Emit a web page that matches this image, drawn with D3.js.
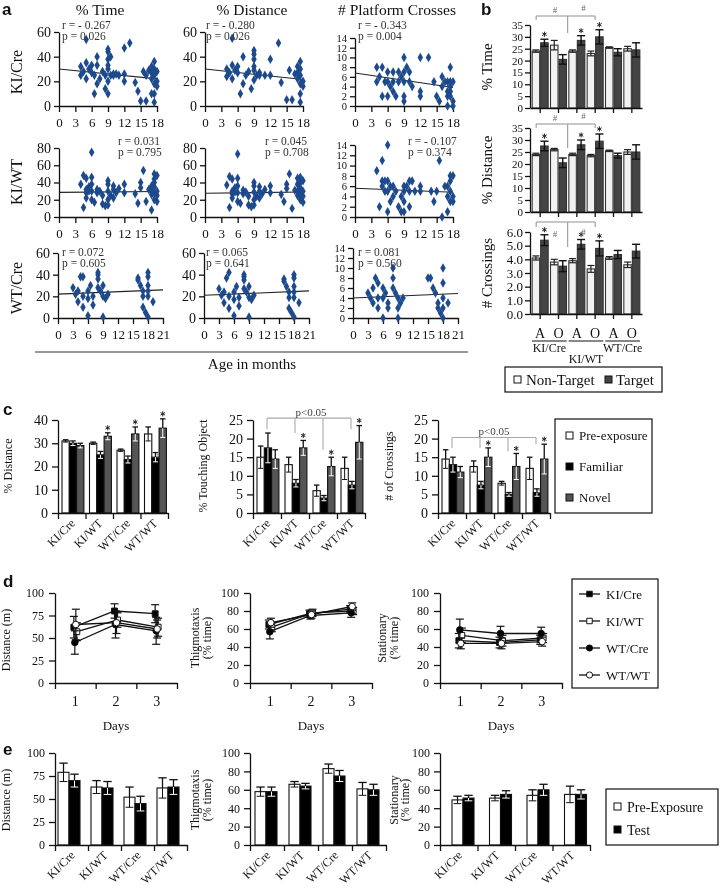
<!DOCTYPE html>
<html><head><meta charset="utf-8">
<script src="https://cdn.jsdelivr.net/npm/d3@7"></script>
<style>
body{margin:0;background:#fff;}
svg{font-family:"Liberation Serif","Times New Roman",serif;will-change:transform;}
</style></head><body>
<svg id="fig" width="720" height="895"></svg>
<script>
// ================= DATA =================
// ---- panel a ----
const aColTitles = ["% Time", "% Distance", "# Platform Crosses"];
const aRowLabels = ["KI/Cre", "KI/WT", "WT/Cre"];
const ageTicks18 = [0,3,6,9,12,15,18];
const ageTicks21 = [0,3,6,9,12,15,18,21];
const pctTicks60 = [0,20,40,60];
const pctTicks80 = [0,20,40,60,80];
const crossTicks14 = [0,2,4,6,8,10,12,14];
const aKICreTime = [[4,25],[4,32],[4.5,28],[5,35],[5,22],[5,54],[5.5,30],[6,27],[6,33],[6.5,25],[6.5,10],[7,40],[7,18],[7,33],[7.5,22],[8,28],[8.5,25],[8.5,14],[9,46],[9,44],[9,38],[9,33],[9,30],[9,20],[9,10],[9.5,25],[9.5,40],[10,26],[10,25],[10.5,26],[11,25],[12,47],[12,20],[12,26],[13,51],[14,19],[14.5,12],[15,4],[15.5,28],[16,25],[16,4],[16.5,29],[17,27],[17,32],[17,10],[17,22],[17.5,36],[17.5,30],[17.5,25],[17.5,18],[17.5,10],[17.5,3],[18,20],[18,16],[18,28]];
const aKICreDist = [[4,24],[4,30],[4.5,27],[5,33],[5,55],[5,22],[5.5,29],[6,32],[6,27],[6.5,10],[7,40],[7,18],[7.5,25],[8,28],[8.5,14],[9,45],[9,42],[9,38],[9,32],[9,29],[9,21],[9.5,25],[10,27],[10,25],[11,25],[12,38],[12,25],[13.5,51],[14,19],[15,5],[15.5,29],[16,5],[16.5,26],[17,27],[17,32],[17,22],[17.5,36],[17.5,30],[17.5,25],[17.5,18],[17.5,10],[17.5,3],[18,20],[18,16]];
const aKICreCross = [[4,8],[4,5],[4.5,6],[5,8],[5,2],[5.5,5],[6,7],[6,5],[6,2],[6.5,4],[7,7],[7,3],[7,5],[7.5,2],[8,7],[8,5],[8.5,6],[9,10],[9,7],[9,5],[9,2],[9,1],[9.5,8],[10,7],[10,5],[10.5,4],[12,10],[12,3],[12,2],[13.5,10],[14.5,5],[15,2],[15.5,1],[16,6],[16,4],[16.5,5],[17,5],[17,3],[17,2],[17,0],[17.5,8],[17.5,5],[17.5,4],[17.5,3],[17.5,2],[18,1],[18,0],[18,5]];
const aKIWTTime = [[4,38],[4.5,48],[4.5,11],[5,45],[5,32],[5,28],[5,22],[5.5,35],[5.5,30],[6,75],[6,46],[6,38],[6,30],[6,20],[6.5,17],[7,32],[7,28],[7.5,30],[8,25],[8,15],[8.5,13],[9,42],[9,38],[9,30],[9,20],[9,14],[9.5,25],[10,36],[10,32],[10,22],[10.5,28],[11,33],[12,38],[12,28],[14,27],[14.5,16],[15,40],[15,34],[15.5,54],[16,18],[16.5,32],[17,36],[17,30],[17,26],[17,8],[17.5,50],[17.5,44],[17.5,40],[17.5,35],[17.5,28],[17.5,20],[18,48],[18,30],[18,25],[18,18]];
const aKIWTDist = [[4,37],[4.5,47],[4.5,11],[5,44],[5,30],[5,27],[5,22],[5.5,34],[5.5,29],[6,73],[6,45],[6,36],[6,28],[6,18],[6.5,16],[7,31],[7,27],[7.5,29],[8,24],[8,14],[8.5,12],[9,40],[9,36],[9,29],[9,20],[9,14],[9.5,24],[10,35],[10,30],[10,22],[10.5,27],[11,32],[12,36],[12,28],[14,26],[14.5,18],[15,38],[15,33],[15.5,50],[16,10],[16.5,31],[17,45],[17,38],[17,30],[17,25],[17.5,46],[17.5,40],[17.5,34],[17.5,27],[17.5,20],[18,42],[18,30],[18,24],[18,17]];
const aKIWTCross = [[4,9],[4.5,2],[5,11],[5,7],[5,6],[5.5,7],[5.5,5],[6,14],[6,7],[6,5],[6,1],[6.5,3],[6.5,6],[7,4],[7,6],[7.5,5],[8,2],[8.5,1],[8.5,4],[9,6],[9,5],[9,3],[9,1],[9.5,6],[10,7],[10,5],[10,2],[10.5,7],[11,5],[12,6],[12,5],[14,5],[14.5,3],[15,5],[15.5,11],[16,0],[16.5,6],[17,6],[17,4],[17,1],[17.5,8],[17.5,7],[17.5,5],[17.5,3],[18,8],[18,4],[18,3]];
const aWTCreTime = [[3,28],[3.5,22],[4,25],[4,15],[4.5,38],[5,38],[5,20],[5,10],[6,25],[6,18],[6,2],[6.5,30],[7,20],[7,12],[8,42],[8,40],[8,36],[8,28],[8.5,25],[9,30],[9,20],[9,1],[9.5,18],[10,22],[16,37],[16,35],[16.5,30],[17,25],[17,20],[17,10],[17.5,5],[18,42],[18,38],[18,30],[18,25],[18,20],[18,1],[19,15]];
const aWTCreDist = [[3,27],[3.5,21],[4,24],[4,14],[4.5,37],[5,42],[5,20],[5,9],[6,24],[6,17],[6,2],[6.5,29],[7,19],[7,11],[8,40],[8,38],[8,35],[8,27],[8.5,24],[9,29],[9,19],[9,1],[9.5,17],[10,21],[16,36],[16,34],[16.5,29],[17,24],[17,19],[17,9],[17.5,5],[18,40],[18,37],[18,29],[18,24],[18,19],[18,1],[19,14]];
const aWTCreCross = [[3,5],[3.5,4],[4,6],[4,3],[4.5,8],[5,7],[5,4],[5,2],[6,6],[6,4],[6,0],[6.5,5],[7,3],[7,2],[8,10],[8,8],[8,6],[8.5,5],[9,4],[9,2],[9,0],[9.5,3],[10,4],[15,8],[15.5,8],[16,6],[16.5,5],[17,3],[17,2],[17.5,1],[18,10],[18,7],[18,4],[18,2],[18,0],[19,3]];
// regression line values at age 0 and at the last age
const aFitStart = [30, 30, 6.8, 28.5, 27.5, 5.6, 22, 21, 4.0];
const aFitEnd   = [22, 21.5, 3.8, 29.5, 29, 4.8, 26, 25, 4.9];
const aStatR = ["r = - 0.267","r = - 0.280","r = - 0.343","r = 0.031","r = 0.045","r = - 0.107","r = 0.072","r = 0.065","r = 0.081"];
const aStatP = ["p = 0.026","p = 0.026","p = 0.004","p = 0.795","p = 0.708","p = 0.374","p = 0.605","p = 0.641","p = 0.560"];

// ---- panel b ----
const bCats = ["A","O","A","O","A","O"];
const bGroups = ["KI/Cre","KI/WT","WT/Cre"];
const bTimeNT = [24, 26.5, 24, 23, 25.5, 25];
const bTimeNTErr = [0.5, 2, 0.5, 1, 0.3, 1];
const bTimeT = [27.5, 20.5, 28.5, 30, 23.5, 24.5];
const bTimeTErr = [1.5, 2, 2, 3, 1.5, 3];
const bDistNT = [24, 26, 24, 23.5, 25.5, 25];
const bDistNTErr = [0.5, 0.5, 0.5, 0.5, 0.3, 1];
const bDistT = [27.5, 20.5, 28, 29.5, 23.5, 25];
const bDistTErr = [2, 2, 2, 3, 1, 3];
const bCrossNT = [4.1, 3.8, 3.9, 3.3, 4.1, 3.6];
const bCrossNTErr = [0.15, 0.2, 0.15, 0.25, 0.1, 0.2];
const bCrossT = [5.4, 3.5, 5.1, 4.8, 4.35, 4.6];
const bCrossTErr = [0.4, 0.4, 0.35, 0.55, 0.3, 0.5];
const bStarIdx = [0, 2, 3];
const bTicks35 = [0,5,10,15,20,25,30,35];
const bTicks6 = [0,1,2,3,4,5,6];

// ---- panel c ----
const genotypes = ["KI/Cre","KI/WT","WT/Cre","WT/WT"];
const cSeries = ["Pre-exposure","Familiar","Novel"];
const cDistPre = [31, 30, 27, 34];   const cDistPreErr = [0.5, 0.5, 0.5, 3];
const cDistFam = [30, 25, 23, 24];   const cDistFamErr = [1, 1.5, 1.5, 2];
const cDistNov = [29, 33, 34, 36.5]; const cDistNovErr = [1, 1.5, 3, 4];
const cTouchPre = [15, 13, 6, 12];   const cTouchPreErr = [3, 2, 1.5, 3];
const cTouchFam = [17.5, 8, 4, 7.5]; const cTouchFamErr = [4, 1, 0.7, 1];
const cTouchNov = [14.5, 17.5, 12.5, 19]; const cTouchNovErr = [2.5, 2, 2.5, 4.5];
const cCrossPre = [14.5, 12.5, 8, 12]; const cCrossPreErr = [2.5, 1.5, 0.5, 3];
const cCrossFam = [13, 7.5, 5, 5.5];   const cCrossFamErr = [2, 1, 0.5, 1];
const cCrossNov = [11, 15, 12.5, 14.5]; const cCrossNovErr = [1.5, 2.5, 3.5, 4];
const cTicks40 = [0,10,20,30,40];
const cTicks25 = [0,5,10,15,20,25];

// ---- panel d ----
const dDays = [1, 2, 3];
const dGroups = ["KI/Cre","KI/WT","WT/Cre","WT/WT"];
const dDistKICre = [62, 80, 77]; const dDistKICreErr = [12, 8, 10];
const dDistKIWT = [57, 70, 62];  const dDistKIWTErr = [10, 8, 10];
const dDistWTCre = [45, 65, 58]; const dDistWTCreErr = [13, 15, 15];
const dDistWTWT = [65, 67, 60];  const dDistWTWTErr = [17, 12, 10];
const dThigKICre = [65, 77, 82]; const dThigKICreErr = [5, 4, 4];
const dThigKIWT = [62, 78, 80];  const dThigKIWTErr = [5, 4, 4];
const dThigWTCre = [57, 75, 78]; const dThigWTCreErr = [8, 4, 5];
const dThigWTWT = [67, 76, 85];  const dThigWTWTErr = [5, 4, 4];
const dStatKICre = [47, 45, 48]; const dStatKICreErr = [8, 6, 5];
const dStatKIWT = [53, 47, 50];  const dStatKIWTErr = [8, 6, 5];
const dStatWTCre = [59, 55, 55]; const dStatWTCreErr = [12, 8, 7];
const dStatWTWT = [44, 44, 46];  const dStatWTWTErr = [6, 6, 5];
const dTicks25 = [0,25,50,75,100];
const dTicks20 = [0,20,40,60,80,100];

// ---- panel e ----
const eSeries = ["Pre-Exposure","Test"];
const eDistPre = [79, 63, 52, 62]; const eDistPreErr = [10, 7, 11, 11];
const eDistTest = [70, 62, 45, 63]; const eDistTestErr = [7, 7, 8, 8];
const eThigPre = [58, 66, 83, 61]; const eThigPreErr = [5, 3, 5, 7];
const eThigTest = [58, 64, 75, 60]; const eThigTestErr = [5, 3, 6, 6];
const eStatPre = [49, 51, 54, 55]; const eStatPreErr = [4, 3, 6, 9];
const eStatTest = [51, 55, 60, 55]; const eStatTestErr = [3, 4, 6, 5];

// ================= DRAWING =================
const svg = d3.select('#fig');
const INK = '#111';
const SERIF = '"Liberation Serif","Times New Roman",serif';
const SANS = '"Liberation Sans",Arial,sans-serif';

function txt(x, y, s, o = {}) {
  const t = svg.append('text').attr('x', x).attr('y', y).text(s)
    .attr('font-size', o.size || 12).attr('text-anchor', o.anchor || 'start')
    .attr('font-family', o.family || SERIF).attr('fill', o.fill || INK);
  if (o.weight) t.attr('font-weight', o.weight);
  return t;
}
function vtxt(x, y, s, size, fill) {
  return svg.append('text').attr('transform', `translate(${x},${y}) rotate(-90)`)
    .attr('text-anchor', 'middle').attr('font-size', size).attr('font-family', SERIF)
    .attr('fill', fill || INK).text(s);
}
function styleAxis(g, fs) {
  g.attr('font-family', SERIF);
  g.select('.domain').attr('stroke', INK).attr('stroke-width', 1.3);
  g.selectAll('.tick line').attr('stroke', INK).attr('stroke-width', 1.3);
  g.selectAll('.tick text').attr('font-size', fs).attr('fill', INK).attr('font-family', SERIF);
}
function errBar(x, yA, yB, cap, col, w) {
  svg.append('line').attr('x1', x).attr('x2', x).attr('y1', yA).attr('y2', yB)
    .attr('stroke', col).attr('stroke-width', w || 1.2);
  svg.append('line').attr('x1', x - cap).attr('x2', x + cap).attr('y1', yA).attr('y2', yA)
    .attr('stroke', col).attr('stroke-width', w || 1.2);
  svg.append('line').attr('x1', x - cap).attr('x2', x + cap).attr('y1', yB).attr('y2', yB)
    .attr('stroke', col).attr('stroke-width', w || 1.2);
}
function star(x, y) {
  svg.append('path').attr('d', d3.symbol(d3.symbolAsterisk).size(18)).attr('transform', `translate(${x},${y})`)
    .attr('fill', 'none').attr('stroke', '#222').attr('stroke-width', 1);
}
function letter(x, y, s) { txt(x, y, s, {size: 17, weight: 'bold', family: SANS}); }

// ---------- panel a ----------
letter(2, 15, 'a');
const aData = [aKICreTime, aKICreDist, aKICreCross, aKIWTTime, aKIWTDist, aKIWTCross, aWTCreTime, aWTCreDist, aWTCreCross];
const aColX = [[59, 205, 355], [59, 205, 355], [58, 204, 353]];
const aZeroY = [106, 217, 318];
const aTopY = [[32, 32, 38], [148, 148, 145], [253, 253, 248]];
const aStatPos = [[[62, 29], [206, 29], [358, 29]], [[118, 145], [265, 145], [408, 145]], [[62, 256], [206, 256], [358, 256]]];
aColTitles.forEach((t, i) => txt([100, 252, 397][i], 15, t, {size: 15.5, anchor: 'middle'}));
aRowLabels.forEach((t, i) => vtxt(22, [72, 182, 288][i], t, 16));
for (let r = 0; r < 3; r++) {
  for (let c = 0; c < 3; c++) {
    const k = r * 3 + c;
    const xMax = r === 2 ? 21 : 18;
    const w = r === 2 ? 105 : 98;
    const yMax = c === 2 ? 14 : (r === 1 ? 80 : 60);
    const yTicks = c === 2 ? crossTicks14 : (r === 1 ? pctTicks80 : pctTicks60);
    const x = d3.scaleLinear().domain([0, xMax]).range([aColX[r][c], aColX[r][c] + w]);
    const y = d3.scaleLinear().domain([0, yMax]).range([aZeroY[r], aTopY[r][c]]);
    const gx = svg.append('g').attr('transform', `translate(0,${aZeroY[r]})`)
      .call(d3.axisBottom(x).tickValues(r === 2 ? ageTicks21 : ageTicks18).tickSize(6).tickSizeOuter(0).tickPadding(6));
    styleAxis(gx, 13);
    const gy = svg.append('g').attr('transform', `translate(${aColX[r][c]},0)`)
      .call(d3.axisLeft(y).tickValues(yTicks).tickSize(5).tickSizeOuter(0).tickPadding(3));
    styleAxis(gy, c === 2 ? 10.5 : 14);
    // fit line
    svg.append('line').attr('x1', x(0)).attr('x2', x(r === 2 ? 21 : 18))
      .attr('y1', y(aFitStart[k])).attr('y2', y(aFitEnd[k])).attr('stroke', '#222').attr('stroke-width', 1.1);
    // points
    svg.append('g').selectAll('path').data(aData[k]).join('path')
      .attr('d', d3.symbol(d3.symbolDiamond).size(26))
      .attr('transform', d => `translate(${x(d[0])},${y(d[1])})`)
      .attr('fill', '#1d4a8c');
    const sp = aStatPos[r][c];
    txt(sp[0], sp[1], aStatR[k], {size: 11.5, fill: '#333'});
    txt(sp[0], sp[1] + 11, aStatP[k], {size: 11.5, fill: '#333'});
  }
}
svg.append('line').attr('x1', 35).attr('x2', 468).attr('y1', 352).attr('y2', 352).attr('stroke', '#333').attr('stroke-width', 1.2);
txt(252, 369, 'Age in months', {size: 15, anchor: 'middle'});

// ---------- panel b ----------
letter(481, 15, 'b');
const bX0 = 530, bX1 = 642;
const bBand = d3.scaleBand().domain(d3.range(6)).range([531, 641]).padding(0);
const bCharts = [
  {nt: bTimeNT, ntE: bTimeNTErr, t: bTimeT, tE: bTimeTErr, yMax: 35, ticks: bTicks35, zero: 108, top: 25, label: '% Time', ly: 67,
   br: {y: 16, d: 4, mid: 33, hy: 13}},
  {nt: bDistNT, ntE: bDistNTErr, t: bDistT, tE: bDistTErr, yMax: 35, ticks: bTicks35, zero: 212, top: 128, label: '% Distance', ly: 170,
   br: {y: 124, d: 4, mid: 148, hy: 121}},
  {nt: bCrossNT, ntE: bCrossNTErr, t: bCrossT, tE: bCrossTErr, yMax: 6, ticks: bTicks6, zero: 314, top: 232, label: '# Crossings', ly: 273,
   br: {y: 222, d: 5, mid: 247, hy: 237}}
];
bCharts.forEach(ch => {
  const y = d3.scaleLinear().domain([0, ch.yMax]).range([ch.zero, ch.top]);
  const cx = i => bBand(i) + bBand.bandwidth() / 2;
  ch.nt.forEach((v, i) => {
    svg.append('rect').attr('x', cx(i) - 8).attr('width', 7.5).attr('y', y(v)).attr('height', ch.zero - y(v))
      .attr('fill', '#f2f2f2').attr('stroke', '#333').attr('stroke-width', 1.1);
    errBar(cx(i) - 4.25, y(v + ch.ntE[i]), y(v - ch.ntE[i]), 3.5, '#222');
  });
  ch.t.forEach((v, i) => {
    svg.append('rect').attr('x', cx(i) + 0.5).attr('width', 7.5).attr('y', y(v)).attr('height', ch.zero - y(v))
      .attr('fill', '#444').attr('stroke', '#333').attr('stroke-width', 1.1);
    errBar(cx(i) + 4.25, y(v + ch.tE[i]), y(v - ch.tE[i]), 4, '#111', 1.4);
  });
  bStarIdx.forEach(i => star(cx(i) + 4.25, y(ch.t[i] + ch.tE[i]) - 5));
  const gx = svg.append('g').attr('transform', `translate(0,${ch.zero})`)
    .call(d3.axisBottom(d3.scaleLinear().domain([0, 1]).range([bX0, bX1])).tickValues([]).tickSizeOuter(0));
  styleAxis(gx, 12);
  svg.append('g').selectAll('line').data(d3.range(6)).join('line')
    .attr('x1', cx).attr('x2', cx).attr('y1', ch.zero).attr('y2', ch.zero + 5).attr('stroke', INK).attr('stroke-width', 1.3);
  const gy = svg.append('g').attr('transform', `translate(${bX0},0)`)
    .call(d3.axisLeft(y).tickValues(ch.ticks).tickSize(5).tickSizeOuter(0).tickPadding(2));
  styleAxis(gy, ch.yMax === 6 ? 13 : 11);
  vtxt(492, ch.ly, ch.label, 15);
  // significance brackets
  const b = ch.br, gc = '#999';
  const xl = cx(0) - 4, xm = (cx(1) + cx(2)) / 2, xr = cx(3);
  [[xl, xm], [xm, xr]].forEach(([a, c2]) => {
    svg.append('line').attr('x1', a).attr('x2', c2).attr('y1', b.y).attr('y2', b.y).attr('stroke', gc).attr('stroke-width', 1.1);
  });
  svg.append('line').attr('x1', xl).attr('x2', xl).attr('y1', b.y).attr('y2', b.y + b.d).attr('stroke', gc).attr('stroke-width', 1.1);
  svg.append('line').attr('x1', xr).attr('x2', xr).attr('y1', b.y).attr('y2', b.y + b.d).attr('stroke', gc).attr('stroke-width', 1.1);
  svg.append('line').attr('x1', xm).attr('x2', xm).attr('y1', b.y).attr('y2', b.mid).attr('stroke', gc).attr('stroke-width', 1.1);
  txt((xl + xm) / 2 + 3, b.hy, '#', {size: 9, anchor: 'middle', fill: '#666'});
  txt((xm + xr) / 2 + 2, b.hy - 2, '#', {size: 9, anchor: 'middle', fill: '#666'});
});
bCats.forEach((t, i) => txt(bBand(i) + bBand.bandwidth() / 2, 338, t, {size: 14, anchor: 'middle'}));
bGroups.forEach((t, j) => {
  const a = bBand(2 * j) + 1, c2 = bBand(2 * j + 1) + bBand.bandwidth() - 1;
  svg.append('line').attr('x1', a).attr('x2', c2).attr('y1', 341).attr('y2', 341).attr('stroke', INK).attr('stroke-width', 1.1);
  txt((a + c2) / 2, j === 1 ? 363 : 352, t, {size: 12, anchor: 'middle'});
});
svg.append('rect').attr('x', 505).attr('y', 367).attr('width', 157).attr('height', 25).attr('fill', 'none').attr('stroke', INK).attr('stroke-width', 1.2);
svg.append('rect').attr('x', 514).attr('y', 376).attr('width', 7).attr('height', 7).attr('fill', '#fff').attr('stroke', INK);
txt(526, 384.5, 'Non-Target', {size: 15});
svg.append('rect').attr('x', 605).attr('y', 376).attr('width', 7).attr('height', 7).attr('fill', '#444').attr('stroke', INK);
txt(616, 384.5, 'Target', {size: 15});

// ---------- generic grouped bar chart (panels c, e) ----------
function groupedBars(cfg) {
  const y = d3.scaleLinear().domain([0, cfg.yMax]).range([cfg.zero, cfg.top]);
  const gScale = d3.scaleBand().domain(genotypes).range([cfg.x0, cfg.x1]).padding(0);
  const inner = d3.scaleBand().domain(d3.range(cfg.series.length)).range([cfg.inPad, cfg.inPad + cfg.barW * cfg.series.length]);
  cfg.series.forEach((s, si) => {
    s.vals.forEach((v, gi) => {
      const bx = gScale(genotypes[gi]) + inner(si);
      const mid = bx + cfg.barW / 2;
      const yHi = y(v + s.errs[gi]);
      svg.append('line').attr('x1', mid).attr('x2', mid).attr('y1', yHi).attr('y2', y(v)).attr('stroke', INK).attr('stroke-width', 1.3);
      svg.append('line').attr('x1', mid - cfg.barW * 0.38).attr('x2', mid + cfg.barW * 0.38).attr('y1', yHi).attr('y2', yHi).attr('stroke', INK).attr('stroke-width', 1.3);
      svg.append('rect').attr('x', bx).attr('width', cfg.barW).attr('y', y(v)).attr('height', cfg.zero - y(v))
        .attr('fill', s.fill).attr('stroke', INK).attr('stroke-width', 1.1);
      const lc = s.fill === '#fff' ? INK : '#fff';
      const yLo = y(v - s.errs[gi]);
      svg.append('line').attr('x1', mid).attr('x2', mid).attr('y1', y(v)).attr('y2', yLo).attr('stroke', lc).attr('stroke-width', 1);
      svg.append('line').attr('x1', mid - cfg.barW * 0.35).attr('x2', mid + cfg.barW * 0.35).attr('y1', yLo).attr('y2', yLo).attr('stroke', lc).attr('stroke-width', 1);
      if (s.stars && s.stars.includes(gi)) star(mid, yHi - 5);
      if (s.hash && s.hash.includes(gi)) txt(mid + 3, y(v) + 1, '#', {size: 9, anchor: 'middle', fill: '#888'});
    });
  });
  const gx = svg.append('g').attr('transform', `translate(0,${cfg.zero})`)
    .call(d3.axisBottom(d3.scaleLinear().domain([0, 4]).range([cfg.x0, cfg.x1])).tickValues([0, 1, 2, 3, 4]).tickFormat('').tickSize(6).tickSizeOuter(0));
  styleAxis(gx, 12);
  const gy = svg.append('g').attr('transform', `translate(${cfg.x0},0)`)
    .call(d3.axisLeft(y).tickValues(cfg.ticks).tickSize(6).tickSizeOuter(0).tickPadding(4));
  styleAxis(gy, cfg.tickFont || 14);
  genotypes.forEach(gn => {
    const cx = gScale(gn) + gScale.bandwidth() / 2 + 4;
    svg.append('text').attr('transform', `translate(${cx},${cfg.zero + 11}) rotate(-45)`)
      .attr('text-anchor', 'end').attr('font-size', 12).attr('font-family', SERIF).attr('fill', INK).text(gn);
  });
  return {y, center: gn => gScale(gn) + gScale.bandwidth() / 2};
}

// ---------- panel c ----------
letter(3, 415, 'c');
const cFills = ['#fff', '#000', '#555'];
const c1 = groupedBars({x0: 58, x1: 168, zero: 513, top: 420, yMax: 40, ticks: cTicks40, barW: 7.3, inPad: 4,
  series: [{vals: cDistPre, errs: cDistPreErr, fill: cFills[0]}, {vals: cDistFam, errs: cDistFamErr, fill: cFills[1], hash: [3]},
           {vals: cDistNov, errs: cDistNovErr, fill: cFills[2], stars: [1, 2, 3]}]});
vtxt(12, 466, '% Distance', 12);
const c2 = groupedBars({x0: 253, x1: 365, zero: 513, top: 420, yMax: 25, ticks: cTicks25, barW: 7.3, inPad: 4,
  series: [{vals: cTouchPre, errs: cTouchPreErr, fill: cFills[0]}, {vals: cTouchFam, errs: cTouchFamErr, fill: cFills[1]},
           {vals: cTouchNov, errs: cTouchNovErr, fill: cFills[2], stars: [1, 2, 3]}]});
vtxt(207, 466, '% Touching Object', 12);
const c3 = groupedBars({x0: 438, x1: 550, zero: 513, top: 420, yMax: 25, ticks: cTicks25, barW: 7.3, inPad: 4,
  series: [{vals: cCrossPre, errs: cCrossPreErr, fill: cFills[0]}, {vals: cCrossFam, errs: cCrossFamErr, fill: cFills[1], hash: [1, 3]},
           {vals: cCrossNov, errs: cCrossNovErr, fill: cFills[2], stars: [1, 2, 3]}]});
vtxt(393, 466, '# of Crossings', 12);
function pBracket(ch, yv, drops, textDx) {
  const yy = ch.y(yv), gc = '#aaa';
  const xs = genotypes.map(ch.center);
  svg.append('line').attr('x1', xs[0]).attr('x2', xs[3]).attr('y1', yy).attr('y2', yy).attr('stroke', gc).attr('stroke-width', 1.1);
  xs.forEach((x, i) => svg.append('line').attr('x1', x).attr('x2', x).attr('y1', yy).attr('y2', ch.y(drops[i])).attr('stroke', gc).attr('stroke-width', 1.1));
  txt((xs[0] + xs[3]) / 2 + textDx, yy - 2, 'p<0.05', {size: 11, anchor: 'middle', fill: '#444'});
}
pBracket(c2, 25.5, [22.5, 21.5, 17, 22.5], 2);
pBracket(c3, 20.3, [17.5, 17.5, 16.5, 18.5], 0);
svg.append('rect').attr('x', 555).attr('y', 419).attr('width', 97).attr('height', 94).attr('fill', 'none').attr('stroke', INK).attr('stroke-width', 1.2);
cSeries.forEach((s, i) => {
  const yy = [436, 467, 498][i];
  svg.append('rect').attr('x', 566).attr('y', yy - 4).attr('width', 7).attr('height', 7).attr('fill', cFills[i]).attr('stroke', INK);
  txt(579, yy + 4, s, {size: 13});
});

// ---------- panel d ----------
letter(3, 587, 'd');
const dSeriesStyle = [
  {sym: d3.symbolSquare, fill: '#000'}, {sym: d3.symbolSquare, fill: '#fff'},
  {sym: d3.symbolCircle, fill: '#000'}, {sym: d3.symbolCircle, fill: '#fff'}];
function lineChart(cfg) {
  const x = d3.scaleLinear().domain([0.5, 3.5]).range([cfg.x0, cfg.x0 + 122]);
  const y = d3.scaleLinear().domain([0, 100]).range([683, 593]);
  const offs = [-1.5, 1.5, -0.5, 0.5];
  cfg.series.forEach((s, si) => {
    const px = d => x(d) + offs[si];
    dDays.forEach((d, i) => errBar(px(d), y(s.v[i] + s.e[i]), y(s.v[i] - s.e[i]), 4, INK, 1.2));
    svg.append('path').datum(dDays).attr('d', d3.line().x(px).y((d, i) => y(s.v[i])))
      .attr('fill', 'none').attr('stroke', INK).attr('stroke-width', 1.3);
    svg.append('g').selectAll('path').data(dDays).join('path')
      .attr('d', d3.symbol(dSeriesStyle[si].sym).size(34))
      .attr('transform', (d, i) => `translate(${px(d)},${y(s.v[i])})`)
      .attr('fill', dSeriesStyle[si].fill).attr('stroke', INK).attr('stroke-width', 1);
  });
  const gx = svg.append('g').attr('transform', 'translate(0,683)')
    .call(d3.axisBottom(x).tickValues([0.5, 1.5, 2.5, 3.5]).tickFormat('').tickSize(6).tickSizeOuter(0));
  styleAxis(gx, 12);
  dDays.forEach(d => txt(x(d), 706, d, {size: 14, anchor: 'middle'}));
  const gy = svg.append('g').attr('transform', `translate(${cfg.x0},0)`)
    .call(d3.axisLeft(y).tickValues(cfg.ticks).tickSize(6).tickSizeOuter(0).tickPadding(5));
  styleAxis(gy, 12);
  txt(x(2), 730, 'Days', {size: 13, anchor: 'middle'});
}
lineChart({x0: 55, ticks: dTicks25, series: [
  {v: dDistKICre, e: dDistKICreErr}, {v: dDistKIWT, e: dDistKIWTErr}, {v: dDistWTCre, e: dDistWTCreErr}, {v: dDistWTWT, e: dDistWTWTErr}]});
vtxt(10, 640, 'Distance (m)', 12);
lineChart({x0: 250, ticks: dTicks20, series: [
  {v: dThigKICre, e: dThigKICreErr}, {v: dThigKIWT, e: dThigKIWTErr}, {v: dThigWTCre, e: dThigWTCreErr}, {v: dThigWTWT, e: dThigWTWTErr}]});
vtxt(199, 638, 'Thigmotaxis', 12); vtxt(211, 638, '(% time)', 12);
lineChart({x0: 440, ticks: dTicks20, series: [
  {v: dStatKICre, e: dStatKICreErr}, {v: dStatKIWT, e: dStatKIWTErr}, {v: dStatWTCre, e: dStatWTCreErr}, {v: dStatWTWT, e: dStatWTWTErr}]});
vtxt(386, 638, 'Stationary', 12); vtxt(398, 638, '(% time)', 12);
svg.append('rect').attr('x', 572).attr('y', 579).attr('width', 86).attr('height', 109).attr('fill', 'none').attr('stroke', INK).attr('stroke-width', 1.2);
dGroups.forEach((gname, i) => {
  const yy = 594 + i * 27;
  svg.append('line').attr('x1', 579).attr('x2', 600).attr('y1', yy).attr('y2', yy).attr('stroke', INK).attr('stroke-width', 1.3);
  svg.append('path').attr('d', d3.symbol(dSeriesStyle[i].sym).size(30)).attr('transform', `translate(589.5,${yy})`)
    .attr('fill', dSeriesStyle[i].fill).attr('stroke', INK);
  txt(606, yy + 4.5, gname, {size: 13});
});

// ---------- panel e ----------
letter(3, 755, 'e');
const eFills = ['#fff', '#000'];
groupedBars({x0: 55, x1: 187, zero: 845, top: 753, yMax: 100, ticks: dTicks25, barW: 11, inPad: 3, tickFont: 12,
  series: [{vals: eDistPre, errs: eDistPreErr, fill: eFills[0]}, {vals: eDistTest, errs: eDistTestErr, fill: eFills[1]}]});
vtxt(10, 800, 'Distance (m)', 12);
groupedBars({x0: 250, x1: 386, zero: 845, top: 753, yMax: 100, ticks: dTicks20, barW: 11, inPad: 5, tickFont: 12,
  series: [{vals: eThigPre, errs: eThigPreErr, fill: eFills[0]}, {vals: eThigTest, errs: eThigTestErr, fill: eFills[1]}]});
vtxt(199, 800, 'Thigmotaxis', 12); vtxt(211, 800, '(% time)', 12);
groupedBars({x0: 440, x1: 590, zero: 845, top: 753, yMax: 100, ticks: dTicks20, barW: 11, inPad: 12, tickFont: 12,
  series: [{vals: eStatPre, errs: eStatPreErr, fill: eFills[0]}, {vals: eStatTest, errs: eStatTestErr, fill: eFills[1]}]});
vtxt(398, 800, 'Stationary', 12); vtxt(409, 800, '(% time)', 12);
svg.append('rect').attr('x', 606).attr('y', 789).attr('width', 112).attr('height', 56).attr('fill', 'none').attr('stroke', INK).attr('stroke-width', 1.2);
eSeries.forEach((s, i) => {
  const yy = [807, 830][i];
  svg.append('rect').attr('x', 614).attr('y', yy - 4).attr('width', 7).attr('height', 7).attr('fill', eFills[i]).attr('stroke', INK);
  txt(627, yy + 4.5, s, {size: 14});
});
</script></body></html>
